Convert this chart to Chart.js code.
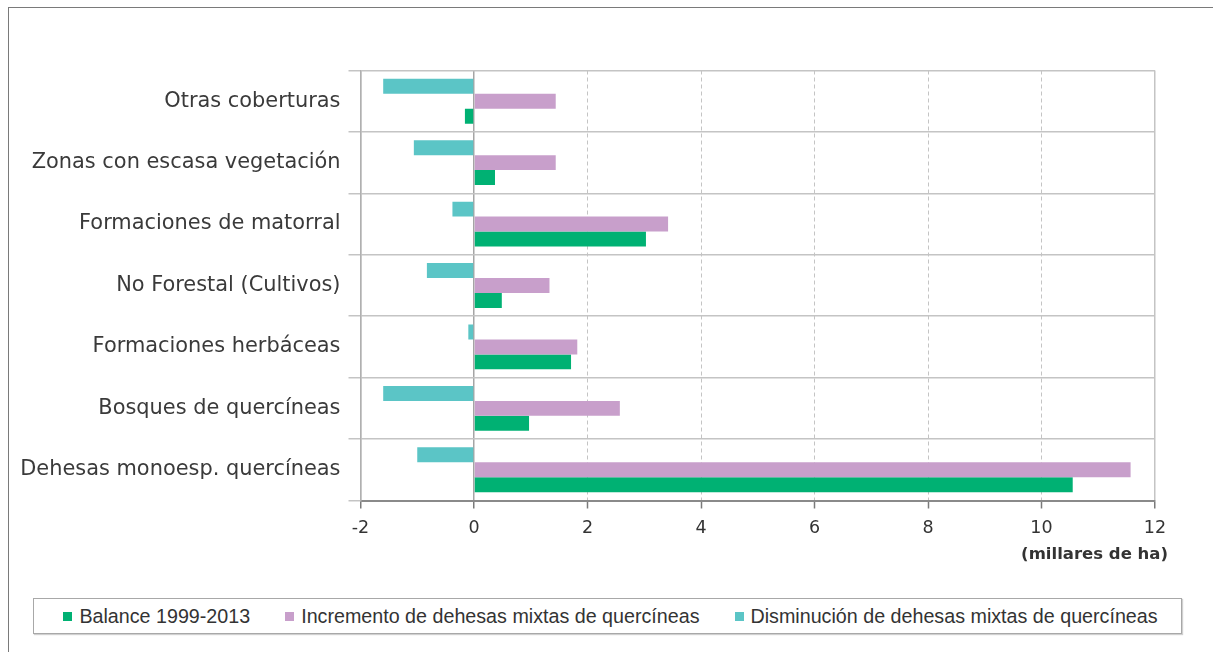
<!DOCTYPE html>
<html>
<head>
<meta charset="utf-8">
<script src="https://cdn.jsdelivr.net/npm/chart.js@4.4.1/dist/chart.umd.min.js"></script>
<style>
  html, body { margin: 0; padding: 0; background: #fff; }
  body { width: 1213px; height: 652px; position: relative; overflow: hidden; }
  #frame { position: absolute; left: 8px; top: 7px; width: 1300px; height: 700px; border: 1.5px solid #7a7a7a; box-sizing: border-box; }
  #wrap { position: absolute; left: 0; top: 0; width: 1213px; height: 580px; }
  #legend { position: absolute; left: 33px; top: 598px; width: 1149px; height: 36px; border: 1px solid #a8a8a8; box-shadow: 1px 1px 1px #d0d0d0; box-sizing: border-box; display: flex; justify-content: center; align-items: center; gap: 35px; font-family: "Liberation Sans", Arial, sans-serif; font-size: 19.7px; color: #333; background: #fff; padding-left: 6px; }
  #legend .item { display: flex; align-items: center; white-space: nowrap; }
  #legend .sw { width: 9px; height: 9px; margin-right: 7px; display: inline-block; }
</style>
</head>
<body>
<div id="frame"></div>
<div id="wrap"><canvas id="c"></canvas></div>
<div id="legend"></div>
<script>
const categories = [
  "Otras coberturas",
  "Zonas con escasa vegetación",
  "Formaciones de matorral",
  "No Forestal (Cultivos)",
  "Formaciones herbáceas",
  "Bosques de quercíneas",
  "Dehesas monoesp. quercíneas"
];
const balance = [-0.16, 0.37, 3.03, 0.49, 1.71, 0.97, 10.55];
const incremento = [1.44, 1.44, 3.42, 1.33, 1.82, 2.57, 11.57];
const disminucion = [-1.6, -1.06, -0.38, -0.83, -0.1, -1.6, -1.0];
const seriesNames = ["Balance 1999-2013", "Incremento de dehesas mixtas de quercíneas", "Disminución de dehesas mixtas de quercíneas"];
const seriesColors = ["#00b173", "#c89fcb", "#5bc5c6"];
const xTickValues = [-2, 0, 2, 4, 6, 8, 10, 12];
const xTitle = "(millares de ha)";

// HTML legend (order: Balance, Incremento, Disminución)
const leg = document.getElementById('legend');
seriesNames.forEach((n, i) => {
  const it = document.createElement('div');
  it.className = 'item';
  const sw = document.createElement('span');
  sw.className = 'sw';
  sw.style.background = seriesColors[i];
  const tx = document.createElement('span');
  tx.textContent = n;
  it.appendChild(sw); it.appendChild(tx);
  leg.appendChild(it);
});

const canvas = document.getElementById('c');
const isDashed = v => v !== 0 && v !== -2 && v !== 12;
const dashFn = ctx => (ctx.tick && isDashed(ctx.tick.value)) ? [4, 3] : [];

// axis unit title, right-aligned slightly past the plot's right edge
const unitTitle = {
  id: 'unitTitle',
  afterDraw(chart) {
    const { ctx, chartArea } = chart;
    ctx.save();
    ctx.font = 'bold 16.5px "DejaVu Sans"';
    ctx.fillStyle = '#333';
    ctx.textAlign = 'right';
    ctx.textBaseline = 'middle';
    ctx.fillText(xTitle, chartArea.right + 13, 555);
    ctx.restore();
  }
};

new Chart(canvas, {
  type: 'bar',
  data: {
    labels: categories,
    datasets: [
      { label: seriesNames[2], data: disminucion, backgroundColor: seriesColors[2] },
      { label: seriesNames[1], data: incremento, backgroundColor: seriesColors[1] },
      { label: seriesNames[0], data: balance, backgroundColor: seriesColors[0] }
    ]
  },
  plugins: [unitTitle],
  options: {
    indexAxis: 'y',
    responsive: true,
    maintainAspectRatio: false,
    animation: false,
    categoryPercentage: 0.73,
    barPercentage: 1.0,
    layout: { padding: { top: 70.5, right: 58, bottom: 0, left: 0 } },
    plugins: { legend: { display: false }, tooltip: { enabled: false } },
    scales: {
      x: {
        type: 'linear',
        min: -2, max: 12,
        afterBuildTicks: s => { s.ticks = xTickValues.map(v => ({ value: v })); },
        afterFit: s => { s.height = 79.5; },
        ticks: {
          font: { family: 'DejaVu Sans', size: 17.5 },
          color: '#333',
          padding: 9,
          callback: v => String(v)
        },
        grid: {
          color: ctx => (ctx.tick && ctx.tick.value === 0) ? '#a5a5a5' : '#c4c4c4',
          lineWidth: ctx => (ctx.tick && isDashed(ctx.tick.value)) ? 1 : 1.5,
          borderDash: dashFn,
          tickColor: '#7a7a7a',
          tickLength: 8,
          tickWidth: 1.5
        },
        border: { color: '#8a8a8a', width: 2, dash: dashFn }
      },
      y: {
        afterFit: s => { s.width = 360.5; },
        ticks: {
          font: { family: 'DejaVu Sans', size: 20.9 },
          color: '#3a3a3a',
          padding: 8
        },
        grid: {
          color: '#c4c4c4',
          lineWidth: 1.5,
          tickLength: 12,
          tickColor: '#c4c4c4'
        },
        border: { color: '#b0b0b0', width: 1.5 }
      }
    }
  }
});
</script>
</body>
</html>
